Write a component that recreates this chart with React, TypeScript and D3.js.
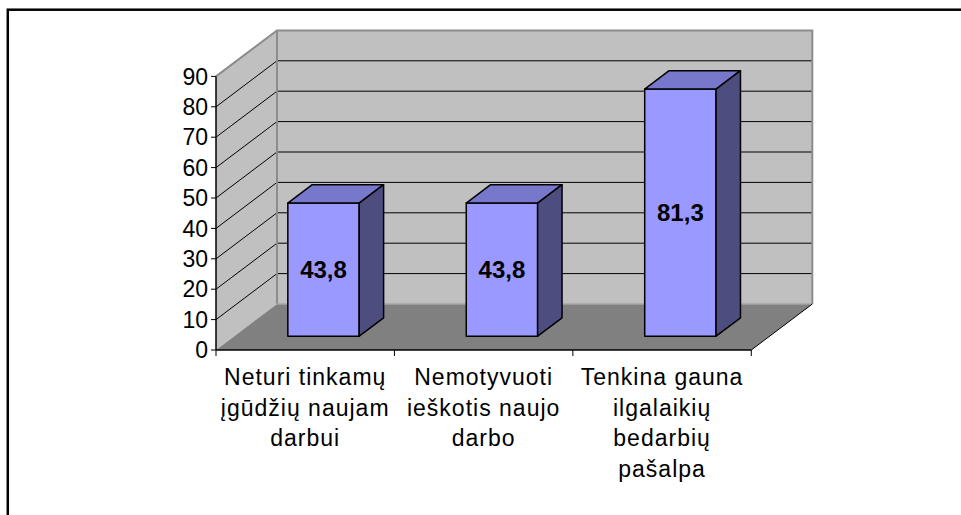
import React, { useRef, useEffect } from "react";
import * as d3 from "d3";

// chart data
const categories = [
  ["Neturi tinkamų", "įgūdžių naujam", "darbui"],
  ["Nemotyvuoti", "ieškotis naujo", "darbo"],
  ["Tenkina gauna", "ilgalaikių", "bedarbių", "pašalpa"],
];
const values = [43.8, 43.8, 81.3];
const valueLabels = ["43,8", "43,8", "81,3"];
const yTicks = [0, 10, 20, 30, 40, 50, 60, 70, 80, 90];

const FONT = "'Liberation Sans', Arial, sans-serif";

const App = () => {
  const svgRef = useRef<SVGSVGElement>(null);

  useEffect(() => {
    document.body.style.margin = "0";
    const svg = d3.select(svgRef.current);
    svg.selectAll("*").remove();

    const x = d3.scaleLinear().domain([0, categories.length]).range([216, 751.3]);
    const y = d3.scaleLinear().domain([0, 90]).range([350, 76.4]);
    // depth offset (0 = front, 1 = back wall)
    const dx = d3.scaleLinear().domain([0, 1]).range([0, 61]);
    const dy = d3.scaleLinear().domain([0, 1]).range([0, -46]);

    const P = (c: number, v: number, d: number): [number, number] => [
      x(c) + dx(d),
      y(v) + dy(d),
    ];
    const poly = (pts: [number, number][]) => "M" + pts.map((p) => p.join(",")).join("L") + "Z";
    const n = categories.length;

    // outer frame
    svg
      .append("rect")
      .attr("x", 7.8)
      .attr("y", 9.7)
      .attr("width", 1000)
      .attr("height", 600)
      .attr("fill", "#fff")
      .attr("stroke", "#000")
      .attr("stroke-width", 2.5);

    // walls
    svg
      .append("path")
      .attr("d", poly([P(0, 0, 0), P(0, 0, 1), P(0, 90, 1), P(0, 90, 0)]))
      .attr("fill", "#c0c0c0");
    svg
      .append("path")
      .attr("d", poly([P(0, 0, 1), P(n, 0, 1), P(n, 90, 1), P(0, 90, 1)]))
      .attr("fill", "#c0c0c0");

    // gridlines
    const grid = yTicks.filter((t) => t > 0 && t < 90);
    svg
      .selectAll(".gs")
      .data(grid)
      .enter()
      .append("path")
      .attr("d", (t) => "M" + P(0, t, 0).join(",") + "L" + P(0, t, 1).join(",") + "L" + P(n, t, 1).join(","))
      .attr("fill", "none")
      .attr("stroke", "#000")
      .attr("stroke-width", 1);

    // wall edges
    svg
      .append("path")
      .attr("d", "M" + P(0, 90, 0).join(",") + "L" + P(0, 90, 1).join(",") + "L" + P(n, 90, 1).join(",") + "L" + P(n, 0, 1).join(","))
      .attr("fill", "none")
      .attr("stroke", "#8c8c8c")
      .attr("stroke-width", 2);
    svg
      .append("line")
      .attr("x1", P(0, 0, 1)[0])
      .attr("y1", P(0, 0, 1)[1])
      .attr("x2", P(0, 90, 1)[0])
      .attr("y2", P(0, 90, 1)[1])
      .attr("stroke", "#8c8c8c")
      .attr("stroke-width", 2);

    // floor
    svg
      .append("path")
      .attr("d", poly([P(0, 0, 0), P(n, 0, 0), P(n, 0, 1), P(0, 0, 1)]))
      .attr("fill", "#808080");
    svg
      .append("line")
      .attr("x1", P(0, 0, 1)[0])
      .attr("y1", P(0, 0, 1)[1])
      .attr("x2", P(n, 0, 1)[0])
      .attr("y2", P(n, 0, 1)[1])
      .attr("stroke", "#a6a6a6")
      .attr("stroke-width", 1.5);
    svg
      .append("line")
      .attr("x1", P(n, 0, 0)[0])
      .attr("y1", P(n, 0, 0)[1])
      .attr("x2", P(n, 0, 1)[0])
      .attr("y2", P(n, 0, 1)[1])
      .attr("stroke", "#000")
      .attr("stroke-width", 1);

    // bars
    const d0 = 0.3;
    const d1 = 0.7;
    const bars = svg.selectAll(".bar").data(values).enter().append("g");
    bars
      .append("path")
      .attr("d", (v, i) => poly([P(i + 0.3, 0, d0), P(i + 0.7, 0, d0), P(i + 0.7, v, d0), P(i + 0.3, v, d0)]))
      .attr("fill", "#9999ff");
    bars
      .append("path")
      .attr("d", (v, i) => poly([P(i + 0.3, v, d0), P(i + 0.7, v, d0), P(i + 0.7, v, d1), P(i + 0.3, v, d1)]))
      .attr("fill", "#7777cc");
    bars
      .append("path")
      .attr("d", (v, i) => poly([P(i + 0.7, 0, d0), P(i + 0.7, 0, d1), P(i + 0.7, v, d1), P(i + 0.7, v, d0)]))
      .attr("fill", "#4d4d80");
    bars
      .selectAll("path")
      .attr("stroke", "#000")
      .attr("stroke-width", 1.5)
      .attr("stroke-linejoin", "round");

    bars
      .append("text")
      .attr("x", (v, i) => P(i + 0.5, v / 2, d0)[0])
      .attr("y", (v, i) => P(i + 0.5, v / 2, d0)[1])
      .attr("dy", "0.36em")
      .attr("text-anchor", "middle")
      .attr("font-family", FONT)
      .attr("font-weight", "bold")
      .attr("font-size", 24)
      .text((v, i) => valueLabels[i]);

    // y axis
    svg
      .append("line")
      .attr("x1", x(0))
      .attr("x2", x(0))
      .attr("y1", y(0))
      .attr("y2", y(90))
      .attr("stroke", "#000")
      .attr("stroke-width", 1.5);
    const yt = svg.selectAll(".yt").data(yTicks).enter().append("g");
    yt.append("line")
      .attr("x1", x(0) - 5)
      .attr("x2", x(0))
      .attr("y1", (t) => y(t))
      .attr("y2", (t) => y(t))
      .attr("stroke", "#000");
    yt.append("text")
      .attr("x", x(0) - 8)
      .attr("y", (t) => y(t))
      .attr("dy", "0.36em")
      .attr("text-anchor", "end")
      .attr("font-family", FONT)
      .attr("font-size", 23)
      .text((t) => t);

    // x axis
    svg
      .append("line")
      .attr("x1", x(0))
      .attr("x2", x(n))
      .attr("y1", y(0))
      .attr("y2", y(0))
      .attr("stroke", "#000")
      .attr("stroke-width", 1.5);
    svg
      .selectAll(".xt")
      .data(d3.range(n + 1))
      .enter()
      .append("line")
      .attr("x1", (i) => x(i))
      .attr("x2", (i) => x(i))
      .attr("y1", y(0))
      .attr("y2", y(0) + 6)
      .attr("stroke", "#000");

    const xl = svg
      .selectAll(".xl")
      .data(categories)
      .enter()
      .append("text")
      .attr("text-anchor", "middle")
      .attr("font-family", FONT)
      .attr("font-size", 23)
      .attr("letter-spacing", 1);
    xl.selectAll("tspan")
      .data((lines, i) => lines.map((l) => ({ l, i })))
      .enter()
      .append("tspan")
      .attr("x", (d) => x(d.i + 0.5))
      .attr("y", (d, j) => 385 + j * 30.5)
      .text((d) => d.l);
  }, []);

  return <svg ref={svgRef} width={961} height={515} style={{ display: "block" }}></svg>;
};

export default App;
